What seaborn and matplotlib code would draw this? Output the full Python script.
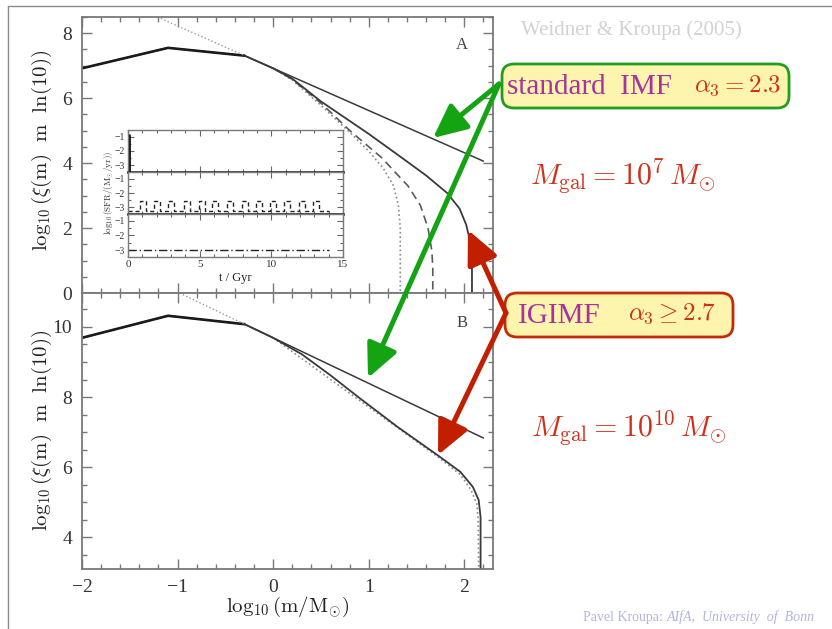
import matplotlib
matplotlib.use("Agg")
import matplotlib.pyplot as plt
import seaborn as sns
from matplotlib.patches import FancyBboxPatch, FancyArrowPatch
from matplotlib.lines import Line2D
from matplotlib.ticker import MultipleLocator
from matplotlib.transforms import IdentityTransform

# ---------------- mass functions: log10(xi(m) m ln10) vs log10(m/Msun) ----------------
# Panel A: M_gal = 1e7 Msun
logm_std_a = [-2.0, -1.1, -0.3, 2.2]
xi_std_a = [6.92, 7.55, 7.31, 4.06]
logm_ext_a = [-1.21, -0.3]
xi_ext_a = [8.5, 7.31]
logm_ig_solid_a = [-0.3, 0.0, 0.2, 0.5, 1.0, 1.33, 1.6, 1.82, 1.95, 2.02, 2.06, 2.08, 2.08]
xi_ig_solid_a = [7.31, 6.92, 6.6, 5.9, 4.9, 4.2, 3.62, 3.08, 2.6, 2.1, 1.6, 1.0, 0.0]
logm_ig_dash_a = [0.0, 0.2, 0.5, 0.81, 1.13, 1.41, 1.54, 1.62, 1.66, 1.67, 1.67]
xi_ig_dash_a = [6.92, 6.58, 5.85, 4.98, 4.18, 3.3, 2.7, 2.0, 1.3, 0.8, 0.0]
logm_ig_dot_a = [0.0, 0.2, 0.5, 0.8, 0.99, 1.15, 1.26, 1.31, 1.33, 1.33]
xi_ig_dot_a = [6.92, 6.56, 5.78, 4.95, 4.4, 3.85, 3.3, 2.7, 2.0, 0.0]

# Panel B: M_gal = 1e10 Msun
logm_std_b = [-2.0, -1.1, -0.3, 2.2]
xi_std_b = [9.69, 10.32, 10.08, 6.83]
logm_ext_b = [-0.98, -0.3]
xi_ext_b = [10.97, 10.08]
logm_ig_solid_b = [-0.3, 0.0, 0.3, 0.6, 0.89, 1.3, 1.72, 1.96, 2.09, 2.15, 2.17, 2.17]
xi_ig_solid_b = [10.08, 9.69, 9.22, 8.62, 8.0, 7.15, 6.34, 5.86, 5.43, 5.06, 4.57, 3.0]
logm_ig_dot_b = [0.0, 0.89, 1.72, 1.96, 2.07, 2.13, 2.145, 2.15]
xi_ig_dot_b = [9.69, 7.93, 6.3, 5.78, 5.35, 4.95, 4.5, 3.0]

# ---------------- star formation histories (inset) ----------------
burst_t = [0.05, 0.05]
burst_sfr = [-3.45, -0.9]
pulse_start = [0.84, 1.84, 2.81, 3.91, 4.95, 5.88, 6.93, 7.93, 8.91, 9.91, 10.9, 11.95, 12.93]
pulse_width = 0.42
pulse_high = -2.55
pulse_low = -3.22
pulse_end = 14.0
const_t = [0.0, 14.0]
const_sfr = [-3.0, -3.0]

# ---------------- style ----------------
sns.set_theme(style="ticks")
plt.rcParams["font.family"] = ["Liberation Serif", "DejaVu Serif"]
plt.rcParams["mathtext.fontset"] = "cm"
plt.rcParams["axes.unicode_minus"] = True

W, H = 832, 629
fig = plt.figure(figsize=(W / 100, H / 100), dpi=100)
fig.patch.set_facecolor("white")


def frac_rect(x0, y0, x1, y1):
    return [x0 / W, 1 - y1 / H, (x1 - x0) / W, (y1 - y0) / H]


def fpt(x, y):
    return (x / W, 1 - y / H)


def dpt(x, y):
    return (x, H - y)


FRAME = "#787878"
TICKTXT = "#333333"


def style_main(ax):
    for sp in ax.spines.values():
        sp.set_color(FRAME)
        sp.set_linewidth(1.3)
    ax.set_facecolor("white")
    ax.grid(False)
    ax.tick_params(which="both", direction="in", top=True, right=True,
                   color=FRAME, width=1.0, labelcolor=TICKTXT)
    ax.tick_params(which="major", length=7, labelsize=14, pad=7)
    ax.tick_params(which="minor", length=3.5)
    ax.xaxis.set_major_locator(MultipleLocator(1))
    ax.xaxis.set_minor_locator(MultipleLocator(0.2))
    ax.yaxis.set_major_locator(MultipleLocator(2))
    ax.yaxis.set_minor_locator(MultipleLocator(0.5))
    ax.set_xlim(-2, 2.3)


def curve(ax, x, y, color, lw, ls="-"):
    sns.lineplot(x=x, y=y, ax=ax, sort=False, estimator=None, color=color,
                 lw=lw, linestyle=ls, legend=False)


axA = fig.add_axes(frac_rect(82, 17, 493, 293))
axB = fig.add_axes(frac_rect(82, 293, 493, 569))
for ax in (axA, axB):
    style_main(ax)

# panel A curves
curve(axA, logm_std_a, xi_std_a, "#3a3a3a", 1.1)
curve(axA, logm_std_a[:3], xi_std_a[:3], "#1a1a1a", 1.9)
curve(axA, logm_ext_a, xi_ext_a, "#999999", 1.0, ":")
curve(axA, logm_ig_dot_a, xi_ig_dot_a, "#8a8a8a", 1.2, ":")
curve(axA, logm_ig_dash_a, xi_ig_dash_a, "#5a5a5a", 1.2, (0, (5, 3)))
curve(axA, logm_ig_solid_a, xi_ig_solid_a, "#3a3a3a", 1.3)
axA.set_ylim(0, 8.5)
axA.tick_params(labelbottom=False)
axA.set_xlabel("")
axA.set_ylabel(r"$\log_{10}(\xi(\mathrm{m})\ \ \mathrm{m}\ \ \ln(10))$", fontsize=15, color="#222222")
axA.yaxis.set_label_coords(-0.068, 0.518)
axA.text(0.925, 0.9, "A", transform=axA.transAxes, fontsize=12, color="#444444", ha="center", va="center")

# panel B curves
curve(axB, logm_std_b, xi_std_b, "#3a3a3a", 1.1)
curve(axB, logm_std_b[:3], xi_std_b[:3], "#1a1a1a", 1.9)
curve(axB, logm_ext_b, xi_ext_b, "#999999", 1.0, ":")
curve(axB, logm_ig_dot_b, xi_ig_dot_b, "#8a8a8a", 1.2, ":")
curve(axB, logm_ig_solid_b, xi_ig_solid_b, "#3a3a3a", 1.3)
axB.set_ylim(3.09, 10.97)
axB.set_ylabel(r"$\log_{10}(\xi(\mathrm{m})\ \ \mathrm{m}\ \ \ln(10))$", fontsize=15, color="#222222")
axB.yaxis.set_label_coords(-0.068, 0.504)
axB.set_xlabel(r"$\log_{10}(\mathrm{m}/\mathrm{M}_{\odot})$", fontsize=15, color="#222222")
axB.xaxis.set_label_coords(0.499, -0.094)
axB.text(0.925, 0.89, "B", transform=axB.transAxes, fontsize=12, color="#444444", ha="center", va="center")

# ---------------- inset: SFR histories ----------------
inset_rows = [(130, 172), (172, 214), (214, 257)]
inset_axes = [fig.add_axes(frac_rect(128, y0, 343, y1)) for (y0, y1) in inset_rows]
for i, ax in enumerate(inset_axes):
    for sp in ax.spines.values():
        sp.set_color("#7a7a7a")
        sp.set_linewidth(1.0)
    ax.set_facecolor("white")
    ax.grid(False)
    ax.set_xlim(0, 15)
    ax.set_ylim(-3.45, -0.55)
    ax.xaxis.set_major_locator(MultipleLocator(5))
    ax.xaxis.set_minor_locator(MultipleLocator(1))
    ax.yaxis.set_major_locator(MultipleLocator(1))
    ax.yaxis.set_minor_locator(MultipleLocator(0.5))
    ax.tick_params(which="both", direction="in", top=True, right=True, color="#666666",
                   width=0.8, labelsize=7, pad=2, labelcolor=TICKTXT)
    ax.tick_params(which="major", length=4)
    ax.tick_params(which="minor", length=2)
    if i < 2:
        ax.tick_params(labelbottom=False)
        ax.spines["bottom"].set_color("#111111")
        ax.spines["bottom"].set_linewidth(1.8)
    ax.set_xlabel("")
    ax.set_ylabel("")
inset_axes[2].tick_params(axis="x", labelsize=8)

curve(inset_axes[0], burst_t, burst_sfr, "#111111", 2.0)

step_t = [0.0]
step_y = [pulse_low]
for s in pulse_start:
    step_t += [s, s, s + pulse_width, s + pulse_width]
    step_y += [pulse_low, pulse_high, pulse_high, pulse_low]
step_t.append(pulse_end)
step_y.append(pulse_low)
curve(inset_axes[1], step_t, step_y, "#222222", 1.0, (0, (3, 2)))
curve(inset_axes[2], const_t, const_sfr, "#222222", 1.0, (0, (6, 2, 1, 2)))

inset_axes[2].set_xlabel("t / Gyr", fontsize=9, color="#222222", labelpad=2)
fig.text(*fpt(109, 193), r"$\log_{10}(\mathrm{SFR}/(\mathrm{M}_{\odot}/\mathrm{yr}))$",
         rotation=90, fontsize=6.5, ha="center", va="center", color="#333333")

# ---------------- slide decoration ----------------
fig.add_artist(Line2D([8 / W, 1.0], [1 - 6 / H, 1 - 6 / H], transform=fig.transFigure,
                      color="#8a8a8a", lw=1.0))
fig.add_artist(Line2D([8 / W, 8 / W], [0.0, 1 - 6 / H], transform=fig.transFigure,
                      color="#8a8a8a", lw=1.0))

fig.text(*fpt(631, 30), "Weidner & Kroupa (2005)", fontsize=15, color="#d2d2d2",
         ha="center", va="center")

PURPLE = "#a8329f"
RED = "#d0301a"
YELLOW = "#fdf5ae"

box_std = FancyBboxPatch(dpt(502, 108), 287, 44, boxstyle="round,pad=0,rounding_size=12",
                         transform=IdentityTransform(), fc=YELLOW, ec="#1f9e1f", lw=2.0)
box_ig = FancyBboxPatch(dpt(505, 337), 228, 44, boxstyle="round,pad=0,rounding_size=12",
                        transform=IdentityTransform(), fc=YELLOW, ec="#c42a08", lw=2.0)
fig.add_artist(box_std)
fig.add_artist(box_ig)

fig.text(*fpt(507, 87), "standard  IMF", fontsize=21, color=PURPLE, ha="left", va="center")
fig.text(*fpt(781, 86), r"$\alpha_3 = 2.3$", fontsize=18, color=RED, ha="right", va="center")
fig.text(*fpt(518, 316), "IGIMF", fontsize=21, color=PURPLE, ha="left", va="center")
fig.text(*fpt(716, 314), r"$\alpha_3 \geq 2.7$", fontsize=18, color=RED, ha="right", va="center")

fig.text(*fpt(623, 176), r"$M_{\rm gal} = 10^7\,M_{\odot}$", fontsize=21.5, color=RED,
         ha="center", va="center")
fig.text(*fpt(629, 428), r"$M_{\rm gal} = 10^{10}\,M_{\odot}$", fontsize=21.5, color=RED,
         ha="center", va="center")

# arrows from the labels to the curves
GREEN = "#13a313"
DRED = "#c21f00"
arrow_style = "-|>,head_length=1.7,head_width=0.8"
for (x0, y0, x1, y1, col) in [(499, 84, 433, 138, GREEN), (499, 84, 368, 378, GREEN),
                              (506, 313, 468, 230, DRED), (506, 313, 438, 455, DRED)]:
    fig.add_artist(FancyArrowPatch(dpt(x0, y0), dpt(x1, y1), transform=IdentityTransform(),
                                   arrowstyle=arrow_style, mutation_scale=12, lw=3.6,
                                   color=col, shrinkA=0, shrinkB=0))

# footer credit
LAV = "#b4b4e0"
renderer = fig.canvas.get_renderer()
t1 = fig.text(*fpt(583, 617), "Pavel Kroupa: ", fontsize=10, color=LAV, ha="left", va="center")
bb = t1.get_window_extent(renderer=renderer)
fig.text(bb.x1 / W, 1 - 617 / H, "AIfA,  University  of  Bonn", fontsize=10, color=LAV,
         style="italic", ha="left", va="center")

fig.savefig("out.png", dpi=100, facecolor="white")
